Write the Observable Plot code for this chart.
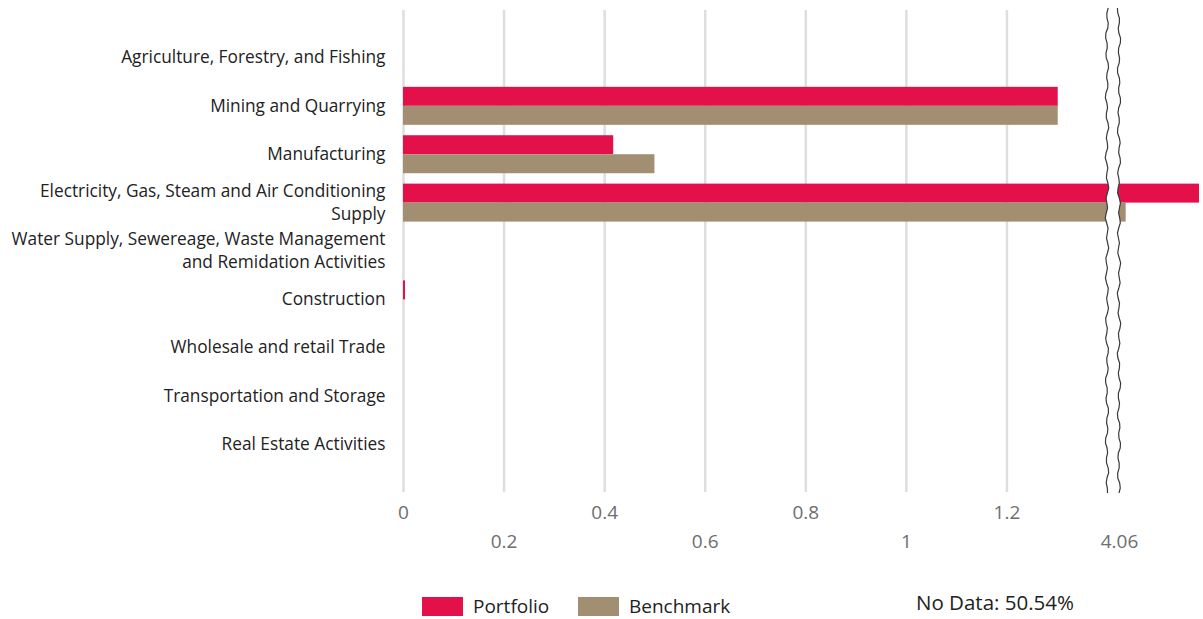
<!DOCTYPE html>
<html>
<head>
<meta charset="utf-8">
<script src="https://cdn.jsdelivr.net/npm/d3@7"></script>
<script src="https://cdn.jsdelivr.net/npm/@observablehq/plot@0.6"></script>
<style>
  html, body { margin: 0; padding: 0; background: #fff; }
  #wrap { position: relative; width: 1203px; height: 619px; font-family: "Open Sans", sans-serif; }
  #chart svg { display: block; }
  .legend { position: absolute; top: 593px; display: flex; align-items: center; font-size: 19px; color: #222; }
  .sw { display: inline-block; width: 41px; height: 19px; margin-right: 10px; }
  #nodata { position: absolute; left: 916px; top: 588px; font-size: 20.5px; color: #222; }
</style>
</head>
<body>
<div id="wrap">
  <div id="chart"></div>
  <div class="legend" style="left:422px"><span class="sw" style="background:#e3104a"></span>Portfolio</div>
  <div class="legend" style="left:578px"><span class="sw" style="background:#a28f72"></span>Benchmark</div>
  <div id="nodata">No Data: 50.54%</div>
</div>
<script>
const categories = [
  "Agriculture, Forestry, and Fishing",
  "Mining and Quarrying",
  "Manufacturing",
  "Electricity, Gas, Steam and Air Conditioning\nSupply",
  "Water Supply, Sewereage, Waste Management\nand Remidation Activities",
  "Construction",
  "Wholesale and retail Trade",
  "Transportation and Storage",
  "Real Estate Activities"
];
const portfolio = [0, 1.302, 0.418, 4.5, 0, 0.004, 0, 0, 0];
const benchmark = [0, 1.302, 0.50, 4.08, 0, 0, 0, 0, 0];
const gridTicks = [0, 0.2, 0.4, 0.6, 0.8, 1, 1.2];
const tickRow1 = [0, 0.4, 0.8, 1.2];
const tickRow2 = [0.2, 0.6, 1, 4.06];
const breakFrom = 1.4;
const breakTo = 4.06;
const axisMax = 4.3;

const colors = {Portfolio: "#e3104a", Benchmark: "#a28f72"};

// broken axis: compress the gap between breakFrom and breakTo
const unit = 1 / 502.9;
const brk = d3.scaleLinear()
  .domain([0, breakFrom, breakTo, axisMax])
  .range([0, breakFrom, breakFrom + 12 * unit, breakFrom + 92 * unit]);

const rows = categories.flatMap((c, i) => [
  {category: c, series: "Portfolio", value: portfolio[i]},
  {category: c, series: "Benchmark", value: benchmark[i]}
]);

function breakMark(index, scales, values, dims) {
  const xa = scales.x(brk(breakFrom)), xb = scales.x(brk(breakTo));
  const top = dims.marginTop - 2, bottom = dims.height - dims.marginBottom + 1;
  const wig = (y, s) => 1.1 * Math.sin(y * 0.31 + s) + 0.7 * Math.sin(y * 0.11 + 2 * s);
  const ys = d3.range(top, bottom, 5).concat([bottom]);
  const left = ys.map(y => [xa + wig(y, 0), y]);
  const right = ys.map(y => [xb + wig(y, 1.7), y]);
  const g = d3.create("svg:g");
  g.append("path")
    .attr("d", d3.line()(left.concat(right.slice().reverse())) + "Z")
    .attr("fill", "#fff");
  for (const pts of [left, right]) {
    g.append("path").attr("d", d3.line()(pts))
      .attr("fill", "none").attr("stroke", "#3a3a3a").attr("stroke-width", 1.2);
  }
  return g.node();
}

const chart = Plot.plot({
  width: 1203,
  height: 570,
  marginTop: 10,
  marginBottom: 78,
  marginLeft: 403,
  marginRight: 4,
  style: {fontFamily: "Open Sans, sans-serif", background: "#fff"},
  x: {type: "linear", domain: [0, brk(axisMax)], axis: null},
  y: {domain: categories, range: [10, 492], paddingInner: 0.215, paddingOuter: 0.588, round: false, axis: null},
  marks: [
    Plot.ruleX(gridTicks, {x: d => brk(d), stroke: "#dedede", strokeWidth: 2.5}),
    Plot.barX(rows.filter(d => d.series === "Portfolio"), {
      x1: 0, x2: d => brk(d.value), y: "category", fill: colors.Portfolio, insetBottom: 19, insetTop: 0, clip: true
    }),
    Plot.barX(rows.filter(d => d.series === "Benchmark"), {
      x1: 0, x2: d => brk(d.value), y: "category", fill: colors.Benchmark, insetTop: 19, insetBottom: 0, clip: true
    }),
    breakMark,
    Plot.text(categories, {
      y: d => d, frameAnchor: "left", textAnchor: "end", dx: -18, dy: -2,
      text: d => d, fontSize: 17.3, fill: "#222", lineHeight: 1.3
    }),
    Plot.text(tickRow1, {x: d => brk(d), frameAnchor: "bottom", dy: 26, text: d => String(d), fontSize: 19, fill: "#6e6e6e"}),
    Plot.text(tickRow2, {x: d => brk(d), frameAnchor: "bottom", dy: 55, text: d => String(d), fontSize: 19, fill: "#6e6e6e"})
  ]
});
document.getElementById("chart").appendChild(chart);
</script>
</body>
</html>
